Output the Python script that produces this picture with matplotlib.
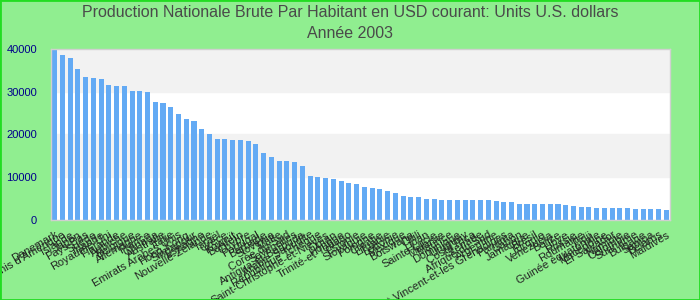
import matplotlib
matplotlib.use("Agg")
import matplotlib.pyplot as plt
from matplotlib.patches import Rectangle

# GNP per capita 2003, sorted
countries = [
    "Danemark", "Etats-Unis d'Amérique", "Islande", "Japon", "Pays-Bas",
    "Suède", "Irlande", "Royaume-Uni", "Finlande", "Autriche",
    "Belgique", "Allemagne", "France", "Canada", "Australie",
    "Italie", "Emirats Arabes Unis", "Hong-Kong", "Singapour", "Espagne",
    "Nouvelle-Zélande", "Israël", "Grèce", "Koweït", "Bahreïn",
    "Chypre", "Portugal", "Barbade", "Slovénie", "Malte",
    "Corée du Sud", "Seychelles", "Antigua-et-Barbuda", "Arabie Saoudite", "République Tchèque",
    "Saint-Christophe-et-Niévès", "Oman", "Hongrie", "Trinité-et-Tobago", "Estonie",
    "Slovaquie", "Pologne", "Croatie", "Lituanie", "Lettonie",
    "Mexique", "Botswana", "Chili", "Liban", "Sainte-Lucie",
    "Malaisie", "Maurice", "Dominique", "Uruguay", "Costa Rica",
    "Grenade", "Afrique du Sud", "Argentine", "Saint-Vincent-et-les Grenadines", "Panama",
    "Gabon", "Jamaïque", "Brésil", "Turquie", "Venezuela",
    "Belize", "Libye", "Russie", "Roumanie", "Fidji",
    "Guinée équatoriale", "Macédoine", "El Salvador", "Namibie", "Colombie",
    "Suriname", "Bulgarie", "Samoa", "Bélarus", "Maldives",
]
values = [
    39800, 38600, 37900, 35300, 33500,
    33200, 33000, 31600, 31400, 31400,
    30200, 30200, 29900, 27600, 27400,
    26400, 24800, 23600, 23200, 21300,
    20100, 19000, 19000, 18700, 18700,
    18500, 17800, 15700, 14700, 13800,
    13800, 13600, 12600, 10300, 10100,
    9800, 9600, 9100, 8700, 8400,
    7700, 7500, 7300, 6800, 6300,
    5600, 5400, 5400, 4900, 4900,
    4700, 4700, 4700, 4700, 4700,
    4700, 4700, 4450, 4200, 4200,
    3750, 3750, 3750, 3750, 3750,
    3750, 3500, 3300, 3050, 3050,
    2800, 2800, 2800, 2800, 2800,
    2550, 2550, 2550, 2550, 2350,
]
yticks = [0, 10000, 20000, 30000, 40000]

title = ("Production Nationale Brute Par Habitant en USD courant: Units U.S. dollars\n"
         "Année 2003")

plt.rcParams["font.family"] = ["Liberation Sans", "DejaVu Sans"]

fig = plt.figure(figsize=(7, 3), dpi=100)
fig.patch.set_facecolor("#90ee90")
fig.patches.append(Rectangle((0, 0), 1, 1, transform=fig.transFigure,
                             fill=False, edgecolor="#22dd22", linewidth=2))

ax = fig.add_axes([0.073, 0.267, 0.884, 0.57])
ax.set_facecolor("white")

# alternating horizontal bands
for i in range(len(yticks) - 1):
    if i % 2 == 1:
        ax.axhspan(yticks[i], yticks[i + 1], color="#f2f2f2", zorder=0)

x = list(range(len(values)))
ax.bar(x, values, width=0.65, color="#63aaf4", zorder=2)

ax.set_xlim(-0.45, len(values) - 0.55)
ax.set_ylim(0, 40000)
ax.set_yticks(yticks)
ax.set_yticklabels([str(v) for v in yticks], color="#00008b", fontsize=8)
ax.tick_params(axis="y", length=0, pad=10)

ax.set_xticks(x)
ax.set_xticklabels(countries, rotation=30, ha="right", va="top",
                   rotation_mode="anchor", fontsize=8, color="#222222")
ax.tick_params(axis="x", length=0, pad=7)

for s in ax.spines.values():
    s.set_color("#d0d0d0")
    s.set_linewidth(1)

fig.text(0.5, 0.982, title, ha="center", va="top", fontsize=11.5,
         color="#4a4a4a", linespacing=1.45,
         family=["Liberation Sans Narrow", "Liberation Sans", "DejaVu Sans"])

fig.savefig("out.png", dpi=100, facecolor=fig.get_facecolor())
